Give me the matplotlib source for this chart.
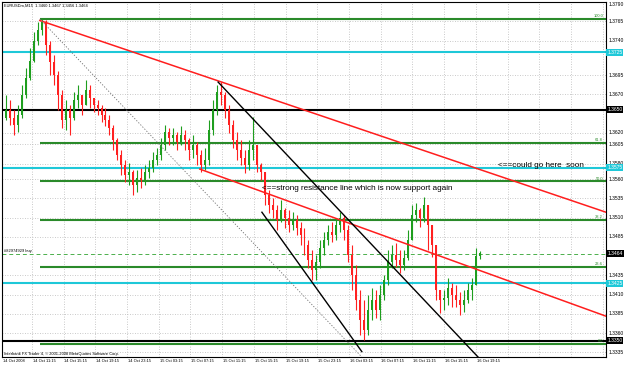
import matplotlib
matplotlib.use("Agg")
import matplotlib.pyplot as plt
import matplotlib.transforms as mtransforms
import numpy as np

plt.rcParams["font.family"] = ["Liberation Sans", "DejaVu Sans"]

# EURUSDm M15 candles (one candle per two M15 bars)
closes = [1.3650, 1.3639, 1.3630, 1.3643, 1.3669, 1.3691, 1.3714, 1.3740, 1.3753, 1.3764,
          1.3734, 1.3712, 1.3695, 1.3669, 1.3637, 1.3650, 1.3639, 1.3663, 1.3669, 1.3656,
          1.3676, 1.3665, 1.3656, 1.3652, 1.3643, 1.3637, 1.3626, 1.3611, 1.3591, 1.3578,
          1.3565, 1.3569, 1.3552, 1.3561, 1.3559, 1.3569, 1.3574, 1.3585, 1.3591, 1.3604,
          1.3621, 1.3613, 1.3617, 1.3608, 1.3617, 1.3611, 1.3598, 1.3604, 1.3591, 1.3578,
          1.3585, 1.3624, 1.3650, 1.3673, 1.3669, 1.3650, 1.3630, 1.3611, 1.3598, 1.3587,
          1.3578, 1.3598, 1.3604, 1.3578, 1.3569, 1.3539, 1.3526, 1.3520, 1.3507, 1.3520,
          1.3510, 1.3500, 1.3507, 1.3497, 1.3487, 1.3474, 1.3455, 1.3442, 1.3452, 1.3471,
          1.3481, 1.3491, 1.3487, 1.3500, 1.3510, 1.3494, 1.3462, 1.3436, 1.3403, 1.3377,
          1.3364, 1.3390, 1.3403, 1.3390, 1.3410, 1.3429, 1.3452, 1.3462, 1.3455, 1.3449,
          1.3458, 1.3481, 1.3513, 1.3520, 1.3510, 1.3526, 1.3500, 1.3474, 1.3416, 1.3403,
          1.3406, 1.3419, 1.3410, 1.3403, 1.3397, 1.3403, 1.3416, 1.3423, 1.3460, 1.3464]
highs = [1.3669, 1.3663, 1.3650, 1.3656, 1.3682, 1.3704, 1.3730, 1.3751, 1.3764, 1.3768,
         1.3766, 1.3740, 1.3721, 1.3701, 1.3676, 1.3663, 1.3656, 1.3673, 1.3682, 1.3669,
         1.3689, 1.3682, 1.3665, 1.3663, 1.3656, 1.3652, 1.3643, 1.3630, 1.3613, 1.3598,
         1.3585, 1.3581, 1.3572, 1.3572, 1.3574, 1.3578, 1.3585, 1.3595, 1.3600, 1.3613,
         1.3630, 1.3626, 1.3626, 1.3621, 1.3629, 1.3624, 1.3613, 1.3617, 1.3608, 1.3598,
         1.3600, 1.3637, 1.3663, 1.3682, 1.3686, 1.3673, 1.3656, 1.3637, 1.3621, 1.3611,
         1.3598, 1.3611, 1.3641, 1.3598, 1.3581, 1.3565, 1.3546, 1.3535, 1.3526, 1.3533,
         1.3522, 1.3520, 1.3517, 1.3513, 1.3504, 1.3497, 1.3481, 1.3468, 1.3462, 1.3481,
         1.3491, 1.3500, 1.3504, 1.3510, 1.3517, 1.3513, 1.3500, 1.3474, 1.3449, 1.3416,
         1.3403, 1.3410, 1.3419, 1.3416, 1.3423, 1.3436, 1.3468, 1.3474, 1.3477, 1.3468,
         1.3468, 1.3494, 1.3526, 1.3529, 1.3522, 1.3537, 1.3520, 1.3487, 1.3464, 1.3416,
         1.3416, 1.3432, 1.3425, 1.3423, 1.3414, 1.3416, 1.3425, 1.3432, 1.3471, 1.3467]
lows = [1.3637, 1.3630, 1.3617, 1.3621, 1.3639, 1.3665, 1.3689, 1.3712, 1.3734, 1.3747,
        1.3721, 1.3695, 1.3682, 1.3650, 1.3626, 1.3624, 1.3617, 1.3637, 1.3652, 1.3643,
        1.3663, 1.3652, 1.3647, 1.3643, 1.3634, 1.3629, 1.3617, 1.3598, 1.3585, 1.3565,
        1.3556, 1.3552, 1.3539, 1.3543, 1.3548, 1.3552, 1.3561, 1.3569, 1.3578, 1.3585,
        1.3598, 1.3604, 1.3604, 1.3598, 1.3604, 1.3598, 1.3585, 1.3587, 1.3578, 1.3569,
        1.3572, 1.3578, 1.3617, 1.3643, 1.3656, 1.3639, 1.3620, 1.3600, 1.3585, 1.3578,
        1.3568, 1.3572, 1.3585, 1.3569, 1.3559, 1.3526, 1.3516, 1.3510, 1.3494, 1.3504,
        1.3497, 1.3491, 1.3494, 1.3487, 1.3474, 1.3462, 1.3445, 1.3429, 1.3429, 1.3445,
        1.3462, 1.3474, 1.3478, 1.3481, 1.3491, 1.3481, 1.3452, 1.3416, 1.3390, 1.3358,
        1.3351, 1.3358, 1.3377, 1.3380, 1.3377, 1.3403, 1.3423, 1.3445, 1.3446, 1.3438,
        1.3442, 1.3455, 1.3487, 1.3504, 1.3498, 1.3504, 1.3468, 1.3459, 1.3403, 1.3386,
        1.3390, 1.3397, 1.3394, 1.3394, 1.3384, 1.3388, 1.3399, 1.3403, 1.3423, 1.3456]
first_open = 1.3640

# fibonacci retracement drawn from the 14 Oct high
fib_high = 1.3768
fib_low = 1.3346
fib_levels = [100.0, 61.8, 50.0, 38.2, 23.6, 0.0]

# horizontal lines
cyan_levels = [1.3725, 1.3575, 1.3425]
black_levels = [1.3650, 1.3350]
bid_price = 1.3464
order_price = 1.3463

# trend lines: (bar, price) anchor pairs
red_upper = [(8.5, 1.3766), (150.75, 1.3517)]
red_lower = [(48.7, 1.3573), (150.75, 1.3382)]
black_chan1 = [(53.3, 1.3686), (118.6, 1.3329)]
black_chan2 = [(64.3, 1.3517), (89.4, 1.3336)]
gray_dotted = [(8.5, 1.3768), (89.4, 1.3329)]

price_ticks = [1.3790, 1.3765, 1.3740, 1.3695, 1.3670, 1.3620, 1.3605, 1.3580, 1.3560,
               1.3535, 1.3510, 1.3485, 1.3435, 1.3410, 1.3385, 1.3360, 1.3335]
time_labels = ["14 Oct 11:15", "14 Oct 15:15", "14 Oct 19:15", "14 Oct 23:15",
               "15 Oct 03:15", "15 Oct 07:15", "15 Oct 11:15", "15 Oct 15:15",
               "15 Oct 19:15", "15 Oct 23:15", "16 Oct 03:15", "16 Oct 07:15",
               "16 Oct 11:15", "16 Oct 15:15", "16 Oct 19:15"]

GREEN = "#2a8a2a"
CYAN = "#1ec8d8"
RED = "#ff1e1e"
FS = 3.6      # price scale
FS_T = 2.9    # time scale / small captions

fig = plt.figure(figsize=(6.25, 3.65), dpi=100)
ax = fig.add_axes([2 / 625, 8 / 365, 604 / 625, 355 / 365])
ax.set_xlim(-1.0, 150.75)
ax.set_ylim(1.3329, 1.3790)

# grid (MT4 style dotted)
grid_x = [6.53 + 7.965 * k for k in range(19)]
for gx in grid_x:
    ax.axvline(gx, color="#b8b8b8", lw=0.6, ls=(0, (1, 2)), zorder=0)
for py in price_ticks:
    ax.axhline(py, color="#b8b8b8", lw=0.6, ls=(0, (1, 2)), zorder=0)

# candles
c = np.array(closes)
o = np.array([first_open] + closes[:-1])
h = np.maximum(np.array(highs), np.maximum(o, c))
lo = np.minimum(np.array(lows), np.minimum(o, c))
x = np.arange(len(c))
cols = np.where(c >= o, "#1e9e1e", "#ff2020")
ax.vlines(x, lo, h, colors=cols, lw=0.8, zorder=3)
ax.bar(x, np.maximum(np.abs(c - o), 0.00008), bottom=np.minimum(o, c), width=0.5,
       color=cols, lw=0, zorder=3)

# horizontal lines
trans_ay = mtransforms.blended_transform_factory(ax.transAxes, ax.transData)
for lv in cyan_levels:
    ax.axhline(lv, color=CYAN, lw=1.5, zorder=2)
for lv in black_levels:
    ax.axhline(lv, color="black", lw=1.5, zorder=2)
ax.axhline(order_price, color="#4caf4c", lw=0.7, ls=(0, (4, 3)), zorder=2)
ax.text(0.004, order_price + 0.00012, "#82974929 buy", transform=trans_ay,
        fontsize=FS_T, va="bottom", ha="left")

for lvl in fib_levels:
    p = fib_low + (fib_high - fib_low) * lvl / 100
    ax.plot([8.5, 150.75], [p, p], color=GREEN, lw=1.5, zorder=2, solid_capstyle="butt")
    ax.text(0.995, p + 0.0001, f"{lvl:.1f}", transform=trans_ay, color=GREEN,
            fontsize=FS_T, ha="right", va="bottom")

# trend lines
for line, col, lw, ls in [(red_upper, RED, 1.1, "-"), (red_lower, RED, 1.1, "-"),
                          (black_chan1, "black", 1.0, "-"), (black_chan2, "black", 1.0, "-"),
                          (gray_dotted, "#707070", 0.6, (0, (1.5, 2)))]:
    (x0, y0), (x1, y1) = line
    ax.plot([x0, x1], [y0, y1], color=col, lw=lw, ls=ls, zorder=4)

ax.text(64.3, 1.3548, "<==strong resistance line which is now support again",
        fontsize=5.9, va="center", ha="left", zorder=5)
ax.text(123.6, 1.3578, "<==could go here  soon", fontsize=5.9, va="center", ha="left", zorder=5)

ax.text(0.004, 0.996, "EURUSDm,M15  1.3460 1.3467 1.3456 1.3464", transform=ax.transAxes,
        fontsize=FS_T, va="top", ha="left")
ax.text(0.004, 0.004, "Interbank FX Trader 4, \u00a9 2001-2008 MetaQuotes Software Corp.",
        transform=ax.transAxes, fontsize=FS_T, va="bottom", ha="left")

# right price scale
ax.set_xticks([])
ax.set_yticks([])
for sp in ax.spines.values():
    sp.set_linewidth(0.8)
for py in price_ticks:
    ax.text(1.004, py, f"{py:.4f}", transform=trans_ay, fontsize=FS,
            va="top" if py == price_ticks[0] else "center", ha="left", clip_on=False)
for lv in cyan_levels:
    ax.text(1.002, lv, f"{lv:.4f}", transform=trans_ay, fontsize=FS, va="center", ha="left",
            color="white", clip_on=False,
            bbox=dict(boxstyle="square,pad=0.2", fc=CYAN, ec="none"))
for lv in black_levels + [bid_price]:
    ax.text(1.002, lv, f"{lv:.4f}", transform=trans_ay, fontsize=FS, va="center", ha="left",
            color="white", clip_on=False,
            bbox=dict(boxstyle="square,pad=0.2", fc="black", ec="none"))

# time scale
trans_xa = mtransforms.blended_transform_factory(ax.transData, ax.transAxes)
ax.text(-0.8, -0.006, "14 Oct 2008", transform=trans_xa, fontsize=FS_T, va="top", ha="left")
for gx, lab in zip(grid_x, time_labels):
    ax.text(gx + 0.2, -0.006, lab, transform=trans_xa, fontsize=FS_T, va="top", ha="left")

fig.savefig("out.png", dpi=100)
